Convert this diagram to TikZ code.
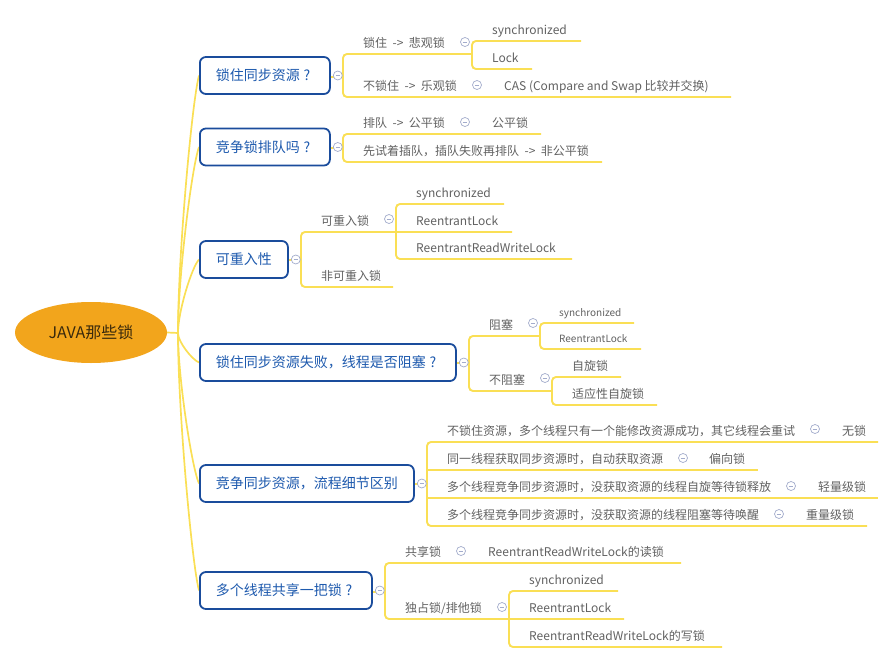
\documentclass[tikz,border=0pt]{standalone}
\usepackage{fontspec}
\setmainfont{Noto Sans CJK SC}
\usetikzlibrary{shapes.geometric}
\definecolor{yel}{HTML}{FADF55}
\definecolor{boxblue}{HTML}{1A4C9C}
\definecolor{boxtext}{HTML}{1E5AAE}
\definecolor{graytext}{HTML}{616161}
\definecolor{rootfill}{HTML}{F2A51C}
\definecolor{roottext}{HTML}{3A2A0C}
\definecolor{collc}{HTML}{A3ACCC}
\newcommand{\arr}{\kern0.45em->\kern0.45em}
\newcommand{\qmark}{\hbox to 1em{\hss?\hss}}
\tikzset{
  yl/.style={draw=yel, line width=1.9pt, rounded corners=4pt},
  rootline/.style={draw=yel, line width=1.7pt},
  lbl/.style={anchor=base west, inner sep=0pt, text=graytext, font=\fontsize{12}{14}\selectfont},
  slbl/.style={lbl, font=\fontsize{10}{12}\selectfont},
  bx/.style={draw=boxblue, line width=1.8pt, rounded corners=6pt, fill=white, text=boxtext,
    font=\fontsize{14}{16}\selectfont, inner xsep=16pt, inner ysep=0pt, minimum height=37pt, anchor=west},
  coll/.style={circle, draw=collc, line width=0.7pt, fill=white, minimum size=9pt, inner sep=0pt,
    path picture={\draw[collc, line width=0.7pt] ([xshift=-2.3pt]path picture bounding box.center) -- ([xshift=2.3pt]path picture bounding box.center);}},
}
\begin{document}
\begin{tikzpicture}[x=1pt,y=-1pt]
\useasboundingbox (0,0) rectangle (896,663);

% ---------- root ----------
\node[ellipse, fill=rootfill, minimum width=152pt, minimum height=61pt, inner sep=0pt,
  text=roottext, font=\fontsize{16}{18}\selectfont] (root) at (91,332.5) {JAVA那些锁};
\coordinate (hub) at (178,333);

% ---------- level 1 boxes (positions) ----------
\path
  (199,75.5) coordinate (p1)
  (199,147) coordinate (p2)
  (199,259.5) coordinate (p3)
  (199,362.5) coordinate (p4)
  (199,483.5) coordinate (p5)
  (199,590.5) coordinate (p6);

% root connectors
\draw[rootline] (root.east) -- (hub);
\draw[rootline] (hub) .. controls (178,255.8) and (192,101.3) .. (p1);
\draw[rootline] (hub) .. controls (178,277.2) and (192,165.6) .. (p2);
\draw[rootline] (hub) .. controls (178,311) and (192,266.9) .. (p3);
\draw[rootline] (hub) .. controls (178,341.9) and (192,359.6) .. (p4);
\draw[rootline] (hub) .. controls (178,378.2) and (192,468.5) .. (p5);
\draw[rootline] (hub) .. controls (178,410.3) and (192,564.8) .. (p6);

% ---------- branch 1 ----------
\draw[yl] (329,77) -- (343,77);
\draw[yl] (472,54) -- (343,54) -- (343,97) -- (731,97);
\draw[yl] (581,41) -- (472,41) -- (472,69) -- (532,69);
\node[lbl] (a1) at (363,47.5) {锁住\arr 悲观锁};
\node[lbl] (a11) at (492,34.5) {synchronized};
\node[lbl] (a12) at (492,62.5) {Lock};
\node[lbl] (a2) at (363,90.5) {不锁住\arr 乐观锁};
\node[lbl] (a21) at (504,90.5) {CAS (Compare and Swap 比较并交换)};
\node[coll] at (465,42) {};
\node[coll] at (477,85) {};

% ---------- branch 2 ----------
\draw[yl] (329,148) -- (343,148);
\draw[yl] (541,134) -- (343,134) -- (343,162) -- (602,162);
\node[lbl] (c1) at (363,127.5) {排队\arr 公平锁};
\node[lbl] (c11) at (492,127.5) {公平锁};
\node[lbl] (c2) at (363,155.5) {先试着插队，插队失败再排队\arr 非公平锁};
\node[coll] at (465,122) {};

% ---------- branch 3 ----------
\draw[yl] (287,260) -- (301,260);
\draw[yl] (512,232) -- (301,232) -- (301,287) -- (393,287);
\draw[yl] (504,204) -- (396,204) -- (396,259) -- (572,259);
\node[lbl] (d1) at (321,225.5) {可重入锁};
\node[lbl] (d11) at (416,197.5) {synchronized};
\node[lbl] (d12) at (416,225.5) {ReentrantLock};
\node[lbl] (d13) at (416,252.5) {ReentrantReadWriteLock};
\node[lbl] (d2) at (321,280.5) {非可重入锁};
\node[coll] at (389,219) {};

% ---------- branch 4 ----------
\draw[yl] (455,363) -- (469,363);
\draw[yl] (540,336) -- (469,336) -- (469,391) -- (552,391);
\draw[yl] (634,323) -- (540,323) -- (540,349) -- (641,349);
\draw[yl] (621,377) -- (552,377) -- (552,405) -- (657,405);
\node[lbl] (e1) at (489,329.5) {阻塞};
\node[slbl] (e11) at (559,316.5) {synchronized};
\node[slbl] (e12) at (559,342.5) {ReentrantLock};
\node[lbl] (e2) at (489,384.5) {不阻塞};
\node[lbl] (e21) at (572,370.5) {自旋锁};
\node[lbl] (e22) at (572,398.5) {适应性自旋锁};
\node[coll] at (533,323) {};
\node[coll] at (545,378) {};

% ---------- branch 5 ----------
\draw[yl] (413,484) -- (427,484);
\draw[yl] (878,442) -- (427,442) -- (427,526) -- (867,526);
\draw[yl] (427,470) -- (758,470);
\draw[yl] (427,498) -- (878,498);
\node[lbl] (f1) at (447,435.5) {不锁住资源，多个线程只有一个能修改资源成功，其它线程会重试};
\node[lbl] (f11) at (842,435.5) {无锁};
\node[lbl] (f2) at (447,463.5) {同一线程获取同步资源时，自动获取资源};
\node[lbl] (f21) at (709,463.5) {偏向锁};
\node[lbl] (f3) at (447,491.5) {多个线程竞争同步资源时，没获取资源的线程自旋等待锁释放};
\node[lbl] (f31) at (818,491.5) {轻量级锁};
\node[lbl] (f4) at (447,519.5) {多个线程竞争同步资源时，没获取资源的线程阻塞等待唤醒};
\node[lbl] (f41) at (806,519.5) {重量级锁};
\node[coll] at (815,429) {};
\node[coll] at (683,458) {};
\node[coll] at (791,486) {};
\node[coll] at (779,514) {};

% ---------- branch 6 ----------
\draw[yl] (371,592) -- (385,592);
\draw[yl] (681,563) -- (385,563) -- (385,619) -- (624,619);
\draw[yl] (618,591) -- (509,591) -- (509,647) -- (722,647);
\node[lbl] (g1) at (405,556.5) {共享锁};
\node[lbl] (g11) at (488,556.5) {ReentrantReadWriteLock的读锁};
\node[lbl] (g2) at (405,612.5) {独占锁/排他锁};
\node[lbl] (g21) at (529,584.5) {synchronized};
\node[lbl] (g22) at (529,612.5) {ReentrantLock};
\node[lbl] (g23) at (529,640.5) {ReentrantReadWriteLock的写锁};
\node[coll] at (461,551) {};
\node[coll] at (502,607) {};

% ---------- boxes ----------
\node[bx] (b1) at (p1) {锁住同步资源\qmark};
\node[bx] (b2) at (p2) {竞争锁排队吗\qmark};
\node[bx] (b3) at (p3) {可重入性};
\node[bx] (b4) at (p4) {锁住同步资源失败，线程是否阻塞\qmark};
\node[bx] (b5) at (p5) {竞争同步资源，流程细节区别};
\node[bx] (b6) at (p6) {多个线程共享一把锁\qmark};
\node[coll] at ([xshift=7pt]b1.east) {};
\node[coll] at ([xshift=7pt]b2.east) {};
\node[coll] at ([xshift=7pt]b3.east) {};
\node[coll] at ([xshift=7pt]b4.east) {};
\node[coll] at ([xshift=7pt]b5.east) {};
\node[coll] at ([xshift=7pt]b6.east) {};
\end{tikzpicture}
\end{document}
